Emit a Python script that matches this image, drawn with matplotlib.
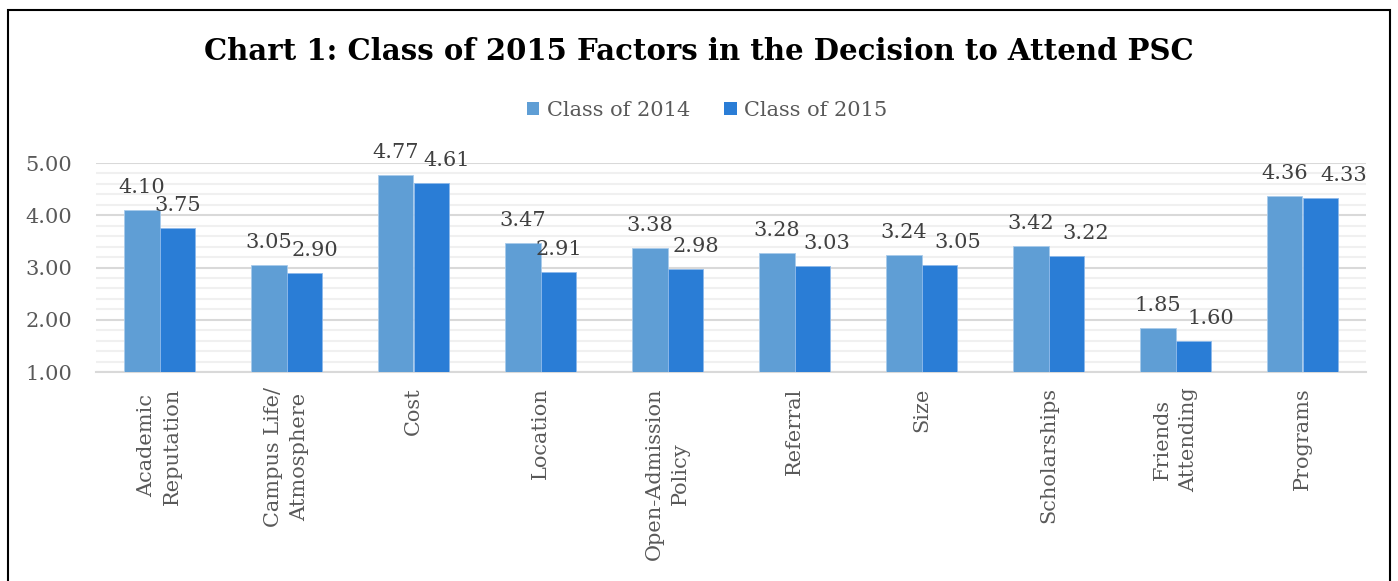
import matplotlib
matplotlib.use("Agg")
import matplotlib.pyplot as plt
import numpy as np
from matplotlib.patches import Rectangle, Patch
from matplotlib.ticker import MultipleLocator

categories = ["Academic\nReputation", "Campus Life/\nAtmosphere", "Cost", "Location",
              "Open-Admission\nPolicy", "Referral", "Size", "Scholarships",
              "Friends\nAttending", "Programs"]
class_2014 = [4.10, 3.05, 4.77, 3.47, 3.38, 3.28, 3.24, 3.42, 1.85, 4.36]
class_2015 = [3.75, 2.90, 4.61, 2.91, 2.98, 3.03, 3.05, 3.22, 1.60, 4.33]
series_names = ["Class of 2014", "Class of 2015"]
title = "Chart 1: Class of 2015 Factors in the Decision to Attend PSC"

# horizontal nudges (pixels) of the Class of 2015 value labels, as placed in the original
label_nudge_2015 = [0, 10, 15, 0, 10, 14, 18, 19, 17, 23]

c14 = "#5F9ED5"
c15 = "#2A7DD6"
txt = "#595959"

plt.rcParams['font.family'] = ['DejaVu Serif']

W, H = 1398, 581
fig = plt.figure(figsize=(W / 100, H / 100), dpi=100)

# border
fig.add_artist(Rectangle((8 / W, -0.05), (1390 - 8) / W, 1.05 - 10 / H,
                         transform=fig.transFigure, fill=False,
                         edgecolor="black", linewidth=1.5))

ax = fig.add_axes([96 / W, 1 - 372 / H, (1366 - 96) / W, (372 - 163) / H])
x = np.arange(len(categories))
bw = 0.283
ax.bar(x - bw / 2, [v - 1 for v in class_2014], bw, bottom=1, color=c14,
       edgecolor="#A9CBEB", linewidth=0.6, zorder=3)
ax.bar(x + bw / 2, [v - 1 for v in class_2015], bw, bottom=1, color=c15,
       edgecolor="#8DB9EA", linewidth=0.6, zorder=3)

px2pt = 72 / 100
for xi, v in zip(x - bw / 2, class_2014):
    ax.annotate(f"{v:.2f}", (xi, v), xytext=(0, 17 * px2pt), textcoords="offset points",
                ha="center", va="baseline", fontsize=15, color="#404040")
for xi, v, n in zip(x + bw / 2, class_2015, label_nudge_2015):
    ax.annotate(f"{v:.2f}", (xi, v), xytext=(n * px2pt, 17 * px2pt),
                textcoords="offset points",
                ha="center", va="baseline", fontsize=15, color="#404040")

ax.set_xlim(-0.5, len(categories) - 0.5)
ax.set_ylim(1, 5)
ax.yaxis.set_major_locator(MultipleLocator(1))
ax.yaxis.set_minor_locator(MultipleLocator(0.2))
ax.set_yticks([1, 2, 3, 4, 5])
ax.set_yticklabels([f"{t:.2f}" for t in [1, 2, 3, 4, 5]])
ax.grid(axis="y", which="major", color="#D9D9D9", linewidth=1.5, zorder=0)
ax.grid(axis="y", which="minor", color="#F0F0F0", linewidth=1.5, zorder=0)
ax.set_axisbelow(True)
ax.tick_params(axis="y", which="both", length=0, pad=17, labelsize=15, labelcolor=txt)
ax.set_xticks(x)
ax.set_xticklabels(categories, rotation=90, ha="center", va="top",
                   multialignment="center", fontsize=15, color=txt, linespacing=1.5)
ax.tick_params(axis="x", length=0, pad=11)
for s in ["top", "right", "left"]:
    ax.spines[s].set_visible(False)
ax.spines["bottom"].set_color("#D9D9D9")
ax.spines["bottom"].set_linewidth(1.5)

fig.text(0.5, 1 - 51 / H, title, ha="center", va="center", fontsize=21,
         fontweight="bold", color="black")

handles = [Patch(facecolor=c14), Patch(facecolor=c15)]
fig.legend(handles, series_names, loc="center", bbox_to_anchor=(707 / W, 1 - 110 / H),
           ncol=2, frameon=False, fontsize=15, labelcolor=txt,
           handlelength=0.6, handleheight=0.6, handletextpad=0.35, columnspacing=1.65)

fig.savefig("out.png", dpi=100)
